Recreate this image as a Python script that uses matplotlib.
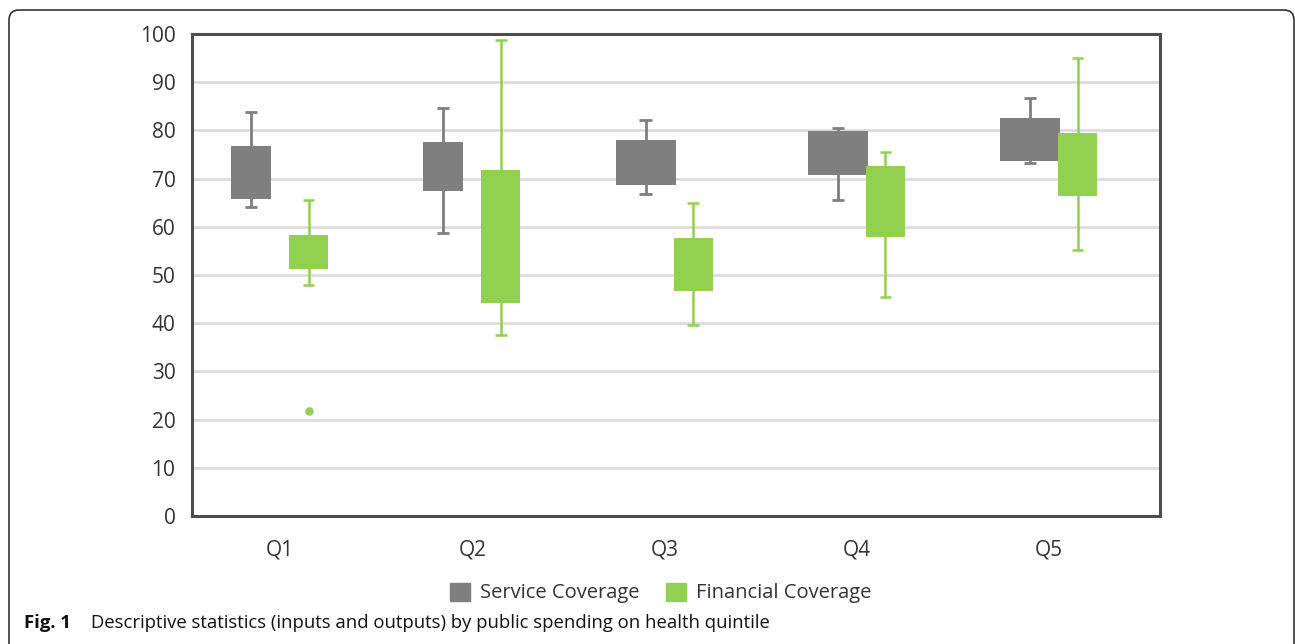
import matplotlib.pyplot as plt
from matplotlib.patches import FancyBboxPatch, Patch
from matplotlib.transforms import IdentityTransform

# quintiles of public health spending
quintiles = ['Q1', 'Q2', 'Q3', 'Q4', 'Q5']

# Service Coverage: whisker low, Q1, Q3, whisker high
svc_low = [64.2, 58.8, 66.7, 65.5, 73.3]
svc_q1 = [65.7, 67.4, 68.6, 70.8, 73.7]
svc_q3 = [76.8, 77.6, 78.0, 79.8, 82.6]
svc_high = [83.8, 84.7, 82.2, 80.5, 86.7]

# Financial Coverage
fin_low = [47.9, 37.6, 39.7, 45.5, 55.1]
fin_q1 = [51.3, 44.1, 46.6, 57.9, 66.3]
fin_q3 = [58.4, 71.8, 57.6, 72.6, 79.4]
fin_high = [65.5, 98.8, 65.0, 75.5, 95.0]

# outliers (quintile index, value)
fin_out_x = [0]
fin_out_y = [21.7]

gray = '#7f7f7f'
green = '#92d050'
txt = '#333333'

plt.rcParams['font.family'] = ['Open Sans', 'DejaVu Sans']

fig = plt.figure(figsize=(12.95, 6.44), dpi=100)
ax = fig.add_axes([0.1483, 0.1988, 0.7475, 0.7484])

x = list(range(len(quintiles)))
# service boxes: Q3-Q5 are drawn wider, reaching over to the green box
svc_off = [-0.153, -0.153, -0.099, -0.099, -0.099]
svc_w = [0.208, 0.208, 0.312, 0.312, 0.312]
fin_off = 0.148
fin_w = 0.203

sx = [xi + o for xi, o in zip(x, svc_off)]
fx = [xi + fin_off for xi in x]

# whiskers behind the boxes
ax.vlines(sx, svc_low, svc_high, color=gray, lw=2, zorder=2)
ax.hlines(svc_low, [s - 0.032 for s in sx], [s + 0.032 for s in sx], color=gray, lw=2, zorder=2)
ax.hlines(svc_high, [s - 0.032 for s in sx], [s + 0.032 for s in sx], color=gray, lw=2, zorder=2)
ax.vlines(fx, fin_low, fin_high, color=green, lw=1.8, zorder=2)
ax.hlines(fin_low, [f - 0.03 for f in fx], [f + 0.03 for f in fx], color=green, lw=1.8, zorder=2)
ax.hlines(fin_high, [f - 0.03 for f in fx], [f + 0.03 for f in fx], color=green, lw=1.8, zorder=2)

ax.bar(sx, [b - a for a, b in zip(svc_q1, svc_q3)], bottom=svc_q1, width=svc_w,
       color=gray, zorder=3)
ax.bar(fx, [b - a for a, b in zip(fin_q1, fin_q3)], bottom=fin_q1, width=fin_w,
       color=green, zorder=4)

ax.scatter([fx[i] for i in fin_out_x], fin_out_y, s=38, color=green, zorder=4, lw=0)

ax.set_xlim(-0.458, 4.577)
ax.set_ylim(0, 100)
ax.set_yticks(range(0, 101, 10))
ax.set_xticks(x)
ax.set_xticklabels(quintiles)
ax.tick_params(axis='both', length=0, labelsize=15, colors=txt)
ax.tick_params(axis='y', pad=12)
ax.tick_params(axis='x', pad=17)
ax.yaxis.grid(True, color='#d9d9d9', lw=1.8)
ax.set_axisbelow(True)
for s in ax.spines.values():
    s.set_color('#4d4d4d')
    s.set_linewidth(2.2)

handles = [Patch(color=gray, label='Service Coverage'),
           Patch(color=green, label='Financial Coverage')]
fig.legend(handles=handles, loc='center', bbox_to_anchor=(661 / 1295, 1 - 593 / 644),
           ncol=2, frameon=False, fontsize=14.5, handlelength=1.0, handleheight=1.0,
           columnspacing=1.3, handletextpad=0.5, labelcolor=txt)

# caption
fig.text(24 / 1295, 1 - 623 / 644, 'Fig. 1', fontsize=13.3, fontweight='bold',
         va='center', color='#111111')
fig.text(91 / 1295, 1 - 623 / 644,
         'Descriptive statistics (inputs and outputs) by public spending on health quintile',
         fontsize=13.3, va='center', color='#111111')

# rounded page frame
frame = FancyBboxPatch((9, -20), 1285, 654, boxstyle='round,pad=0,rounding_size=10',
                       transform=IdentityTransform(), fill=False, ec='#333333', lw=1.2)
fig.patches.append(frame)

fig.savefig('out.png', dpi=100)
